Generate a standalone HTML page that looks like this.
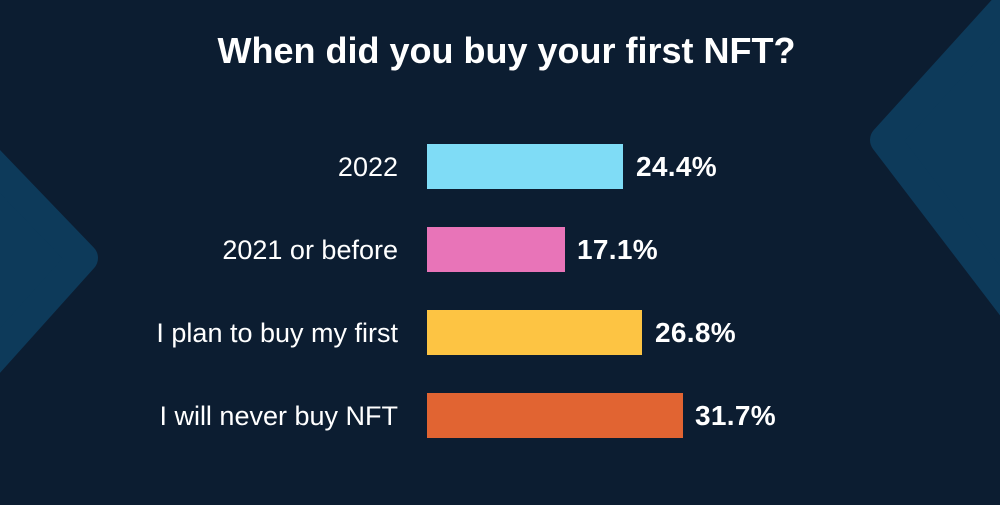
<!DOCTYPE html>
<html><head><meta charset="utf-8"><style>
html,body{margin:0;padding:0}
body{width:1000px;height:505px;background:#0c1d31;position:relative;overflow:hidden;font-family:"Liberation Sans",sans-serif;color:#fff}
svg{position:absolute;left:0;top:0}
.t{position:absolute;left:0;width:1013px;text-align:center;top:30px;font-size:36px;font-weight:bold}
.l{position:absolute;right:602px;font-size:27px;text-align:right;white-space:nowrap;letter-spacing:0px}
.b{position:absolute;left:427px;height:45px}
.v{position:absolute;font-size:28px;font-weight:bold;letter-spacing:0.3px}
</style></head><body>
<svg width="1000" height="505">
<path d="M1030,-20 L885,140 L1030,330 Z" fill="#0d3a5a" stroke="#0d3a5a" stroke-width="30" stroke-linejoin="round"/>
<path d="M-40,130 L83,258 L-40,395 Z" fill="#0d3a5a" stroke="#0d3a5a" stroke-width="30" stroke-linejoin="round"/>
</svg>
<div class="t">When did you buy your first NFT?</div>
<div class="l" style="top:152px">2022</div>
<div class="l" style="top:235px">2021 or before</div>
<div class="l" style="top:318px">I plan to buy my first</div>
<div class="l" style="top:401px">I will never buy NFT</div>
<div class="b" style="top:144px;width:196px;background:#7fdcf6"></div>
<div class="b" style="top:227px;width:138px;background:#e874b8"></div>
<div class="b" style="top:310px;width:215px;background:#fdc443"></div>
<div class="b" style="top:393px;width:256px;background:#e16432"></div>
<div class="v" style="left:636px;top:151px">24.4%</div>
<div class="v" style="left:577px;top:234px">17.1%</div>
<div class="v" style="left:655px;top:317px">26.8%</div>
<div class="v" style="left:695px;top:400px">31.7%</div>
</body></html>
